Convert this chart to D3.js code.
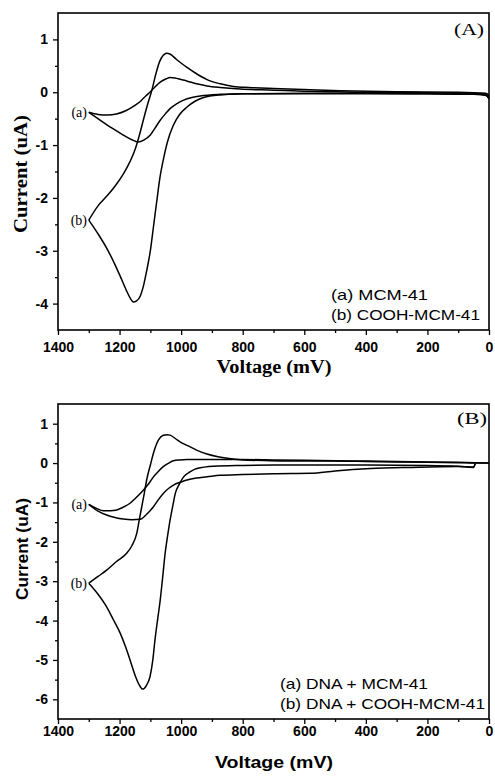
<!DOCTYPE html>
<html>
<head>
<meta charset="utf-8">
<script src="https://cdn.jsdelivr.net/npm/d3@7"></script>
<style>
  body { margin: 0; background: #fff; }
  svg { display: block; }
  .sans { font-family: "Liberation Sans", Arial, sans-serif; }
  .serif { font-family: "Liberation Serif", "Times New Roman", serif; }
  .tick text { font-family: "Liberation Sans", Arial, sans-serif; font-weight: bold; font-size: 14px; }
</style>
</head>
<body>
<svg width="495" height="780"></svg>
<script>
// tick values
const xTicks = [1400, 1200, 1000, 800, 600, 400, 200, 0];
const xMinor = [1300, 1100, 900, 700, 500, 300, 100];
const yTicksA = [1, 0, -1, -2, -3, -4];
const yMinorA = [0.5, -0.5, -1.5, -2.5, -3.5];
const yTicksB = [1, 0, -1, -2, -3, -4, -5, -6];
const yMinorB = [0.5, -0.5, -1.5, -2.5, -3.5, -4.5, -5.5];

// panel A, [voltage mV, current uA]
const mcmUpper = [[1300,-0.38],[1270,-0.42],[1240,-0.43],[1210,-0.41],[1180,-0.35],[1150,-0.25],[1130,-0.16],[1115,-0.07],[1100,0.01],[1085,0.1],[1068,0.19],[1050,0.25],[1036,0.28],[1020,0.27],[1000,0.24],[980,0.21],[950,0.16],[916,0.12],[873,0.09],[808,0.06],[700,0.04],[600,0.02],[500,0.01],[400,0.0],[300,0.0],[200,-0.01],[100,-0.02],[10,-0.03],[0,-0.05]];
const mcmLower = [[1300,-0.38],[1270,-0.5],[1240,-0.62],[1210,-0.73],[1188,-0.81],[1160,-0.9],[1140,-0.94],[1120,-0.9],[1100,-0.81],[1085,-0.68],[1068,-0.53],[1050,-0.4],[1036,-0.31],[1015,-0.22],[992,-0.15],[965,-0.1],[938,-0.07],[873,-0.04],[800,-0.03],[600,-0.02],[400,-0.02],[200,-0.03],[50,-0.04],[10,-0.05],[0,-0.12]];
const coohUpper = [[1300,-2.42],[1270,-2.15],[1242,-1.97],[1215,-1.78],[1188,-1.55],[1165,-1.3],[1150,-1.09],[1135,-0.8],[1123,-0.53],[1110,-0.25],[1095,0.04],[1082,0.35],[1070,0.58],[1058,0.7],[1047,0.74],[1035,0.72],[1015,0.62],[995,0.53],[981,0.47],[950,0.35],[916,0.24],[873,0.16],[830,0.11],[780,0.09],[700,0.07],[600,0.05],[483,0.03],[300,0.01],[100,0.0],[10,-0.02],[0,-0.08]];
const coohLower = [[1300,-2.42],[1270,-2.68],[1242,-2.95],[1220,-3.2],[1198,-3.48],[1178,-3.75],[1165,-3.9],[1155,-3.97],[1145,-3.95],[1133,-3.86],[1123,-3.68],[1112,-3.38],[1100,-3.0],[1090,-2.55],[1080,-2.1],[1069,-1.62],[1058,-1.28],[1045,-0.95],[1025,-0.62],[1005,-0.42],[981,-0.28],[955,-0.17],[927,-0.1],[873,-0.05],[800,-0.03],[600,-0.03],[400,-0.03],[200,-0.03],[50,-0.04],[10,-0.06],[0,-0.12]];

// panel B
const dnaMcmUpper = [[1300,-1.05],[1275,-1.15],[1253,-1.21],[1230,-1.21],[1209,-1.19],[1188,-1.12],[1166,-1.02],[1145,-0.87],[1123,-0.69],[1105,-0.52],[1090,-0.35],[1075,-0.22],[1058,-0.09],[1040,0.0],[1025,0.06],[1005,0.08],[981,0.09],[900,0.09],[800,0.09],[700,0.08],[600,0.07],[500,0.06],[400,0.05],[300,0.04],[200,0.03],[100,0.02],[45,0.01],[0,0.0]];
const dnaMcmLower = [[1300,-1.05],[1270,-1.22],[1242,-1.32],[1215,-1.38],[1188,-1.42],[1160,-1.44],[1133,-1.43],[1112,-1.3],[1090,-1.11],[1075,-0.94],[1058,-0.77],[1040,-0.64],[1025,-0.56],[1000,-0.48],[981,-0.43],[950,-0.38],[916,-0.35],[873,-0.31],[800,-0.29],[700,-0.27],[580,-0.26],[500,-0.2],[385,-0.14],[250,-0.11],[100,-0.09],[50,-0.1],[45,-0.02]];
const dnaCoohUpper = [[1300,-3.05],[1270,-2.88],[1242,-2.72],[1210,-2.5],[1177,-2.29],[1160,-2.1],[1144,-1.78],[1135,-1.4],[1128,-1.11],[1120,-0.78],[1112,-0.43],[1100,-0.05],[1090,0.25],[1074,0.58],[1060,0.7],[1045,0.72],[1036,0.71],[1015,0.6],[995,0.5],[981,0.45],[950,0.33],[916,0.23],[880,0.16],[850,0.12],[800,0.08],[710,0.06],[600,0.05],[500,0.05],[400,0.04],[300,0.03],[200,0.02],[100,0.01],[45,0.0],[0,0.0]];
const dnaCoohLower = [[1300,-3.05],[1270,-3.33],[1242,-3.65],[1220,-3.98],[1198,-4.32],[1180,-4.68],[1166,-5.0],[1150,-5.38],[1137,-5.62],[1125,-5.74],[1113,-5.65],[1101,-5.42],[1092,-5.0],[1085,-4.49],[1076,-3.95],[1068,-3.48],[1060,-2.9],[1052,-2.29],[1044,-1.85],[1036,-1.45],[1027,-1.08],[1019,-0.77],[1005,-0.52],[992,-0.35],[970,-0.22],[949,-0.14],[895,-0.08],[800,-0.06],[700,-0.05],[600,-0.05],[400,-0.05],[200,-0.06],[100,-0.08],[50,-0.11],[45,-0.02]];

const legendA = ['(a) MCM-41', '(b) COOH-MCM-41'];
const legendB = ['(a) DNA + MCM-41', '(b) DNA + COOH-MCM-41'];

const svg = d3.select('svg');
const left = 58, right = 489;
const x = d3.scaleLinear().domain([1400, 0]).range([left, right]);

const drawPanel = (p) => {
  const y = d3.scaleLinear().domain(p.yDomain).range([p.bottom, p.top]);
  const g = svg.append('g');

  const line = d3.line()
    .x(d => x(d[0]))
    .y(d => y(d[1]))
    .curve(d3.curveMonotoneX);

  g.append('g')
    .selectAll('path')
    .data(p.branches)
    .enter().append('path')
    .attr('d', line)
    .attr('fill', 'none')
    .attr('stroke', '#000')
    .attr('stroke-width', 1.5);

  //x axis, major + minor
  g.append('g')
    .attr('transform', `translate(0,${p.bottom})`)
    .call(d3.axisBottom(x).tickValues(xTicks).tickSize(5).tickSizeOuter(0)
      .tickPadding(p.xPad).tickFormat(d => String(d)));
  g.append('g')
    .attr('transform', `translate(0,${p.bottom})`)
    .call(d3.axisBottom(x).tickValues(xMinor).tickSize(3).tickSizeOuter(0).tickFormat(''));

  //y axis
  g.append('g')
    .attr('transform', `translate(${left},0)`)
    .call(d3.axisLeft(y).tickValues(p.yTicks).tickSize(5).tickSizeOuter(0)
      .tickPadding(5).tickFormat(d => String(d)));
  g.append('g')
    .attr('transform', `translate(${left},0)`)
    .call(d3.axisLeft(y).tickValues(p.yMinor).tickSize(3).tickSizeOuter(0).tickFormat(''));

  g.selectAll('.domain').remove();
  g.selectAll('.tick line').attr('stroke-width', 1.3);

  g.append('rect')
    .attr('x', left).attr('y', p.top)
    .attr('width', right - left).attr('height', p.bottom - p.top)
    .attr('fill', 'none').attr('stroke', '#000').attr('stroke-width', 1.6);

  // (a) (b) labels at the vertices
  g.append('g')
    .selectAll('text')
    .data(p.vertexLabels)
    .enter().append('text')
    .attr('class', 'serif')
    .attr('font-size', 14)
    .attr('text-anchor', 'end')
    .attr('x', 87)
    .attr('y', d => y(d[1]) + 4.5)
    .text(d => d[0]);

  g.append('text')
    .attr('class', 'serif')
    .attr('font-size', 16)
    .attr('text-anchor', 'end')
    .attr('x', p.tagX).attr('y', p.tagY)
    .attr('textLength', 30).attr('lengthAdjust', 'spacingAndGlyphs')
    .text(p.tag);

  g.append('g')
    .selectAll('text')
    .data(p.legend)
    .enter().append('text')
    .attr('class', 'sans')
    .attr('font-size', 15)
    .attr('x', p.legendX)
    .attr('y', (d, i) => p.legendY + i * 19.5)
    .attr('textLength', (d, i) => p.legendW[i])
    .attr('lengthAdjust', 'spacingAndGlyphs')
    .text(d => d);

  g.append('text')
    .attr('class', p.titleFont)
    .attr('font-weight', 'bold')
    .attr('font-size', p.titleSize)
    .attr('text-anchor', 'middle')
    .attr('x', 274).attr('y', p.xLabelY)
    .attr('textLength', p.xLabelW).attr('lengthAdjust', 'spacingAndGlyphs')
    .text('Voltage (mV)');

  g.append('text')
    .attr('class', p.titleFont)
    .attr('font-weight', 'bold')
    .attr('font-size', p.titleSize)
    .attr('text-anchor', 'middle')
    .attr('transform', `translate(${p.yLabelX},${p.yLabelY}) rotate(-90)`)
    .attr('textLength', p.yLabelW).attr('lengthAdjust', 'spacingAndGlyphs')
    .text('Current (uA)');
};

drawPanel({
  top: 13, bottom: 330, yDomain: [-4.5, 1.5],
  yTicks: yTicksA, yMinor: yMinorA, xPad: 7,
  branches: [mcmUpper, mcmLower, coohUpper, coohLower],
  vertexLabels: [['(a)', mcmUpper[0][1]], ['(b)', coohUpper[0][1]]],
  tag: '(A)', tagX: 484, tagY: 35,
  legend: legendA, legendX: 331, legendY: 300, legendW: [97, 149],
  titleFont: 'serif', titleSize: 18,
  xLabelY: 373, xLabelW: 115,
  yLabelX: 27, yLabelY: 174, yLabelW: 118
});

drawPanel({
  top: 404, bottom: 719, yDomain: [-6.5, 1.5],
  yTicks: yTicksB, yMinor: yMinorB, xPad: 2,
  branches: [dnaMcmUpper, dnaMcmLower, dnaCoohUpper, dnaCoohLower],
  vertexLabels: [['(a)', dnaMcmUpper[0][1]], ['(b)', dnaCoohUpper[0][1]]],
  tag: '(B)', tagX: 487, tagY: 424,
  legend: legendB, legendX: 280, legendY: 689, legendW: [148, 205],
  titleFont: 'sans', titleSize: 17,
  xLabelY: 768, xLabelW: 118,
  yLabelX: 28, yLabelY: 549, yLabelW: 102
});
</script>
</body>
</html>
